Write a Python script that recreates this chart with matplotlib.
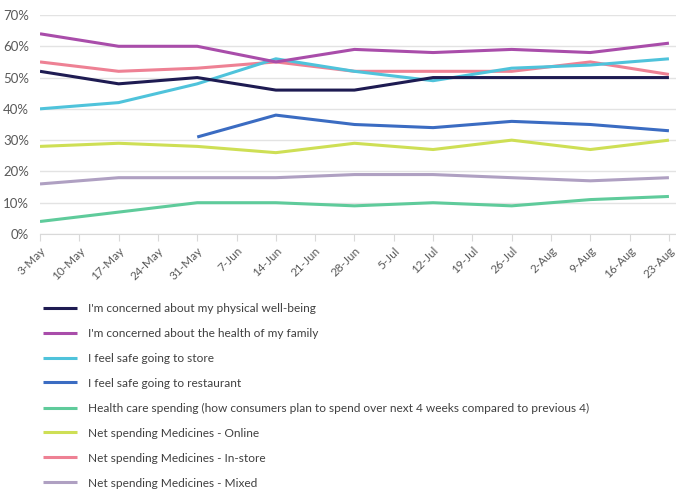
import matplotlib.pyplot as plt
import numpy as np

plt.rcParams['font.family'] = ['Lato', 'DejaVu Sans']

# weekly category axis, survey points every two weeks
weeks = ['3-May', '10-May', '17-May', '24-May', '31-May', '7-Jun', '14-Jun', '21-Jun',
         '28-Jun', '5-Jul', '12-Jul', '19-Jul', '26-Jul', '2-Aug', '9-Aug', '16-Aug', '23-Aug']
survey_weeks = ['3-May', '17-May', '31-May', '14-Jun', '28-Jun', '12-Jul', '26-Jul', '9-Aug', '23-Aug']

physical = [52, 48, 50, 46, 46, 50, 50, 50, 50]
family = [64, 60, 60, 55, 59, 58, 59, 58, 61]
store = [40, 42, 48, 56, 52, 49, 53, 54, 56]
restaurant = [np.nan, np.nan, 31, 38, 35, 34, 36, 35, 33]
health_care = [4, 7, 10, 10, 9, 10, 9, 11, 12]
med_online = [28, 29, 28, 26, 29, 27, 30, 27, 30]
med_instore = [55, 52, 53, 55, 52, 52, 52, 55, 51]
med_mixed = [16, 18, 18, 18, 19, 19, 18, 17, 18]

labels = ["I'm concerned about my physical well-being",
          "I'm concerned about the health of my family",
          "I feel safe going to store",
          "I feel safe going to restaurant",
          "Health care spending (how consumers plan to spend over next 4 weeks compared to previous 4)",
          "Net spending Medicines - Online",
          "Net spending Medicines - In-store",
          "Net spending Medicines - Mixed"]
colors = ['#1E1B52', '#A94DAA', '#4FC3DB', '#3B6CC2', '#5FCB9B', '#CEDF55', '#EE8194', '#AFA0C2']

series = [physical, family, store, restaurant, health_care, med_online, med_instore, med_mixed]

fig = plt.figure(figsize=(6.76, 4.94), dpi=100)
ax = fig.add_axes([40/676, 260/494, 636/676, 219/494])

x = [weeks.index(w) for w in survey_weeks]
# draw back to front so the first series sits on top like the original
for vals, lab, col in list(zip(series, labels, colors))[::-1]:
    ax.plot(x, np.array(vals) / 100, color=col, linewidth=2.2, label=lab, solid_capstyle='butt')

ax.set_xlim(0, 16.18)
ax.set_ylim(0, 0.7)
ax.set_yticks(np.arange(0, 0.71, 0.1))
ax.set_yticklabels([f'{int(round(v*100))}%' for v in np.arange(0, 0.71, 0.1)])
ax.set_xticks(range(len(weeks)))
ax.set_xticklabels(weeks, rotation=45, ha='right', rotation_mode='anchor')

ax.grid(axis='y', color='#E3E3E3', linewidth=1)
ax.set_axisbelow(True)
for s in ['top', 'right', 'left']:
    ax.spines[s].set_visible(False)
ax.spines['bottom'].set_color('#D9D9D9')
ax.tick_params(axis='y', length=0, labelsize=9.5, labelcolor='#595959', pad=8)
ax.tick_params(axis='x', length=5, color='#D9D9D9', labelsize=8.5, labelcolor='#595959', pad=3)

handles, labs = ax.get_legend_handles_labels()
fig.legend(handles[::-1], labs[::-1], loc='upper left', bbox_to_anchor=(32/676, 1 - 292/494),
           frameon=False, fontsize=8.6, handlelength=2.9, handletextpad=0.85,
           labelspacing=1.17, labelcolor='#404040')

plt.savefig('out.png', dpi=100)
